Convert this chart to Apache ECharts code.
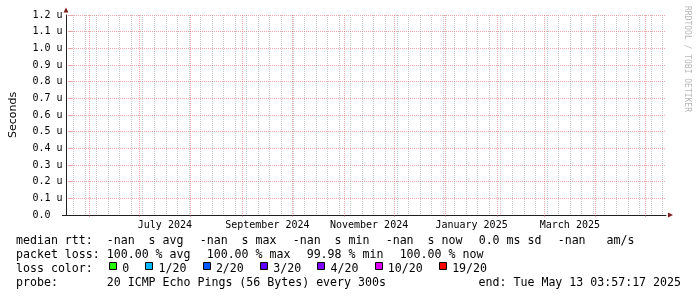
<!DOCTYPE html>
<html><head><meta charset="utf-8">
<script src="https://cdn.jsdelivr.net/npm/echarts@6/dist/echarts.min.js"></script>
<style>html,body{margin:0;padding:0;background:#fff}#c{width:697px;height:297px}</style>
</head><body><div id="c"></div>
<script>
const endTime = Date.UTC(2025, 4, 13, 3, 57, 17);   // "end: Tue May 13 03:57:17 2025"
const spanDays = 360;                                // smokeping "last 360 days"
const yMin = 0, yMax = 1.2, yStep = 0.1;             // seconds, micro (u)
const yUnitSuffix = ' u';
const xTickLabels = ['July 2024', 'September 2024', 'November 2024', 'January 2025', 'March 2025'];
const xTickMonths = [[2024, 6], [2024, 8], [2024, 10], [2025, 0], [2025, 2]];
const medianRtt = [];                                 // no values: -nan
const lossLabels = ['0', '1/20', '2/20', '3/20', '4/20', '10/20', '19/20'];
const lossColors = ['#26ff00', '#00b8ff', '#0059ff', '#5e00ff', '#7e00ff', '#dd00ff', '#ff0000'];
const rttLine = ['median rtt:  -nan  s avg', '-nan  s max', '-nan  s min', '-nan  s now', '0.0 ms sd', '-nan   am/s'];
const lossLine = ['packet loss: 100.00 % avg', '100.00 % max', '99.98 % min', '100.00 % now'];
const lossColorTitle = 'loss color:';
const probeText = 'probe:       20 ICMP Echo Pings (56 Bytes) every 300s';
const endText = 'end: Tue May 13 03:57:17 2025';
const yAxisTitle = 'Seconds';
const watermark = 'RRDTOOL / TOBI OETIKER';

// ---- derived ----
const DAY = 86400000;
const startTime = endTime - spanDays * DAY;
const weekLines = [];
for (let t = Math.ceil(startTime / DAY) * DAY; t <= endTime; t += DAY) {
  if (new Date(t).getUTCDay() === 0) weekLines.push(t);
}
const monthLines = [];
{
  const s = new Date(startTime);
  let y = s.getUTCFullYear(), m = s.getUTCMonth() + 1;
  while (true) {
    const t = Date.UTC(y, m, 1);
    if (t > endTime) break;
    monthLines.push(t);
    m++; if (m > 11) { m = 0; y++; }
  }
}
const yGridValues = [];
for (let i = 1; i <= Math.round((yMax - yMin) / yStep); i++) yGridValues.push(Math.round((yMin + i * yStep) * 10) / 10);
const labelValues = [];
const labelMap = {};
xTickMonths.forEach(([y, m], i) => {
  const mid = (Date.UTC(y, m, 1) + Date.UTC(y, m + 1, 1)) / 2;
  labelValues.push(mid);
  labelMap[mid] = xTickLabels[i];
});

const MONO = '"DejaVu Sans Mono", monospace';
const LEG_FS = 11.6;
const legFont = LEG_FS + 'px ' + MONO;
const mctx = document.createElement('canvas').getContext('2d');
mctx.font = legFont;
const tw = s => mctx.measureText(s).width;

const MGRID = 'rgba(222,79,79,0.5)';
const GRID = 'rgba(143,143,143,0.5)';
const AXIS = '#1f1f1f';
const ARROW = '#7f1f1f';

// legend graphics (rrdtool style layout: elements separated by glue)
const LX = 16, GLUE = 16.2;
const rows = [241, 255, 269, 283];
const graphics = [];
function placeRow(items, y) {
  let x = LX;
  items.forEach(s => {
    graphics.push({ type: 'text', x: x, y: y, silent: true,
      style: { text: s, font: legFont, fill: '#000', textAlign: 'left', textVerticalAlign: 'middle' } });
    x += tw(s) + GLUE;
  });
}
placeRow(rttLine, rows[0]);
placeRow(lossLine, rows[1]);
{
  let x = LX;
  graphics.push({ type: 'text', x: x, y: rows[2], silent: true,
    style: { text: lossColorTitle, font: legFont, fill: '#000', textAlign: 'left', textVerticalAlign: 'middle' } });
  x += tw(lossColorTitle) + GLUE;
  lossLabels.forEach((lab, i) => {
    graphics.push({ type: 'rect', silent: true,
      shape: { x: Math.round(x) + 0.5, y: rows[2] - 6.5, width: 7, height: 7 },
      style: { fill: lossColors[i], stroke: '#000', lineWidth: 1 } });
    graphics.push({ type: 'text', x: x + 13.2, y: rows[2], silent: true,
      style: { text: lab, font: legFont, fill: '#000', textAlign: 'left', textVerticalAlign: 'middle' } });
    x += 13.2 + tw(lab) + GLUE;
  });
}
graphics.push({ type: 'text', x: LX, y: rows[3], silent: true,
  style: { text: probeText, font: legFont, fill: '#000', textAlign: 'left', textVerticalAlign: 'middle' } });
graphics.push({ type: 'text', x: 681, y: rows[3], silent: true,
  style: { text: endText, font: legFont, fill: '#000', textAlign: 'right', textVerticalAlign: 'middle' } });
graphics.push({ type: 'text', x: 687.5, y: 59, rotation: -Math.PI / 2, silent: true,
  style: { text: watermark, font: '8px ' + MONO, fill: 'rgba(0,0,0,0.3)', textAlign: 'center', textVerticalAlign: 'middle' } });

const G = { left: 66, top: 15, width: 600, height: 200 };
const hidden = { axisLine: { show: false }, axisTick: { show: false }, axisLabel: { show: false }, splitLine: { show: false } };
const arrowLine = { show: true, onZero: false, symbol: ['none', 'triangle'], symbolSize: [5, 5], symbolOffset: [0, 4.5],
  lineStyle: { color: ARROW, width: 0 } };

const option = {
  animation: false,
  backgroundColor: '#fff',
  grid: [Object.assign({}, G), Object.assign({}, G), Object.assign({}, G)],
  xAxis: [
    // arrow for the time axis
    Object.assign({ type: 'value', gridIndex: 0, min: startTime, max: endTime }, hidden, { axisLine: arrowLine }),
    // weekly minor grid
    Object.assign({ type: 'value', gridIndex: 1, min: startTime, max: endTime }, hidden, {
      axisTick: { show: false, customValues: weekLines },
      splitLine: { show: true, lineStyle: { color: GRID, width: 1, type: [1, 1] } } }),
    // monthly major grid + labels + axis line
    { type: 'value', gridIndex: 2, min: startTime, max: endTime,
      axisLine: { show: true, onZero: false, lineStyle: { color: AXIS, width: 1 } },
      axisTick: { show: true, customValues: monthLines, inside: false, length: 2, lineStyle: { color: MGRID, width: 1 } },
      splitLine: { show: true, lineStyle: { color: MGRID, width: 1, type: [1, 1] } },
      axisLabel: { show: true, customValues: labelValues, margin: 5, color: '#000', fontFamily: MONO, fontSize: 10,
        formatter: v => labelMap[v] || '' } }
  ],
  yAxis: [
    // black value axis line (+ its stub left of the origin)
    Object.assign({ type: 'value', gridIndex: 0, min: yMin, max: yMax, interval: yStep }, hidden, {
      axisLine: { show: true, onZero: false, lineStyle: { color: AXIS, width: 1 } },
      axisTick: { show: true, customValues: [yMin], length: 4, lineStyle: { color: AXIS, width: 1 } } }),
    // labels, major grid
    { type: 'value', gridIndex: 1, min: yMin, max: yMax, interval: yStep,
      axisLine: { show: false },
      axisTick: { show: true, customValues: yGridValues, length: 4, lineStyle: { color: MGRID, width: 1 } },
      splitLine: { show: true, lineStyle: { color: MGRID, width: 1, type: [1, 1] } },
      axisLabel: { show: true, margin: 9.5, color: '#000', fontFamily: MONO, fontSize: 10, align: 'right',
        formatter: v => (Math.abs(v) < 1e-9 ? '0.0  ' : v.toFixed(1) + yUnitSuffix) },
      name: yAxisTitle, nameLocation: 'middle', nameRotate: 90, nameGap: 53,
      nameTextStyle: { color: '#000', fontFamily: '"DejaVu Sans", sans-serif', fontSize: 11 } },
    // arrow for the value axis
    Object.assign({ type: 'value', gridIndex: 2, min: yMin, max: yMax }, hidden, {
      axisLine: Object.assign({}, arrowLine, { symbolOffset: [0, 5] }) })
  ],
  series: lossLabels.map((lab, i) => ({
    type: 'line', name: lab, xAxisIndex: 1, yAxisIndex: 1, data: medianRtt,
    showSymbol: false, lineStyle: { color: lossColors[i] }, itemStyle: { color: lossColors[i] }
  })),
  graphic: graphics
};
const chart = echarts.init(document.getElementById('c'), null, { renderer: 'canvas' });
chart.setOption(option);
</script>
</body></html>
